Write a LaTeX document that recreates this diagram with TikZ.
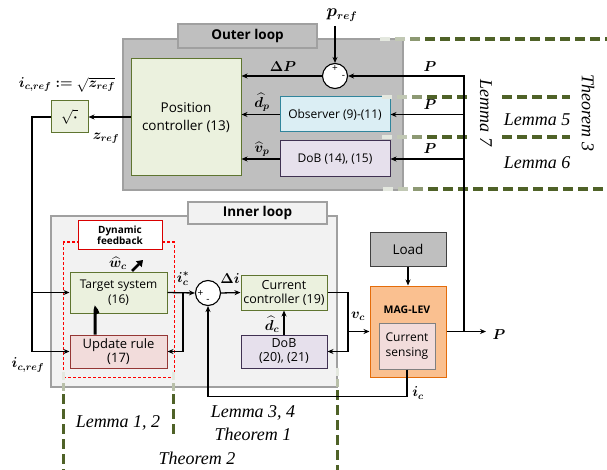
\documentclass[tikz,border=0pt]{standalone}
\usepackage{fontspec}
\usepackage{amsmath,bm}
\usetikzlibrary{arrows.meta,calc}
\newfontfamily\sansf{Open Sans}
\newfontfamily\serf{Liberation Serif}
\definecolor{grOuter}{HTML}{BFBFBF}
\definecolor{grOuterB}{HTML}{A0A0A0}
\definecolor{lgreen}{HTML}{EBF1DE}
\definecolor{dgreen}{HTML}{5F7530}
\definecolor{lcyan}{HTML}{DBEEF4}
\definecolor{cyanb}{HTML}{31859C}
\definecolor{lpurp}{HTML}{E6E0EC}
\definecolor{purpb}{HTML}{403152}
\definecolor{lpink}{HTML}{F2DCDB}
\definecolor{pinkb}{HTML}{953735}
\definecolor{orangef}{HTML}{FAC090}
\definecolor{orangeb}{HTML}{E46C0A}
\definecolor{innerf}{HTML}{F2F2F2}
\definecolor{dashol}{HTML}{4F6228}
\begin{document}
\begin{tikzpicture}[x=1pt,y=-1pt,
  box/.style={draw, line width=1pt, inner sep=0pt, align=center, font={\sansf\fontsize{12}{14.5}\selectfont}},
  gbox/.style={box, fill=lgreen, draw=dgreen},
  arr/.style={line width=1.3pt, -{Stealth[length=6pt,width=5pt]}},
  ln/.style={line width=1.3pt},
  mlab/.style={font={\fontsize{14}{16}\selectfont}, inner sep=0pt},
  lem/.style={font={\serf\itshape\fontsize{18}{21}\selectfont}, inner sep=0pt},
  dsh/.style={line width=4pt, dash pattern=on 10pt off 5pt},
  dshc/.style={line width=4pt},
  sumj/.style={circle, draw, line width=1.1pt, fill=white, minimum size=25pt, inner sep=0pt},
  pm/.style={inner sep=0pt, font={\sansf\fontsize{10}{10}\selectfont}}
]
\useasboundingbox (0,0) rectangle (607,470);
% ---------- outer loop ----------
\node[draw=grOuterB, fill=grOuter, line width=1.2pt, minimum width=280pt, minimum height=151pt, inner sep=0pt] (outer) at (263,114.5) {};
\node[draw=grOuterB, fill=grOuter, line width=1.2pt, minimum width=139pt, minimum height=24pt, inner sep=0pt, font={\sansf\bfseries\fontsize{13.5}{16}\selectfont}] (outerlbl) at (247.5,36) {Outer loop};
\node[gbox, minimum width=110pt, minimum height=117pt, font={\sansf\fontsize{13.5}{18}\selectfont}] (pos) at (186,117.5) {Position\\controller (13)};
\node[gbox, minimum width=37pt, minimum height=32pt, font={\fontsize{15}{16}\selectfont}] (sqrtb) at (69.5,117) {$\sqrt{\bm\cdot}$};
\node[box, fill=lcyan, draw=cyanb, minimum width=110pt, minimum height=35pt] (obs) at (335,114.5) {Observer (9)-(11)};
\node[box, fill=lpurp, draw=purpb, minimum width=110pt, minimum height=36pt] (dobo) at (335,159) {DoB (14), (15)};
\node[sumj] (sum1) at (335,76) {};
\node[pm] (sum1p) at (335,69) {+};
\node[pm] (sum1m) at (343.5,77) {-};
% ---------- inner loop ----------
\node[draw=grOuterB, fill=innerf, line width=1.2pt, minimum width=286pt, minimum height=171pt, inner sep=0pt] (inner) at (194,301.5) {};
\node[draw=grOuterB, fill=innerf, line width=1.2pt, minimum width=139pt, minimum height=22pt, inner sep=0pt, font={\sansf\bfseries\fontsize{13.5}{16}\selectfont}] (innerlbl) at (257.5,213) {Inner loop};
\draw[red, line width=1pt, dash pattern=on 3pt off 2pt] (63,242) rectangle (174,377);
\node[box, fill=white, draw=red!85!black, minimum width=84pt, minimum height=28pt, font={\sansf\bfseries\fontsize{10}{11.5}\selectfont}] (dynfb) at (120,235) {Dynamic\\feedback};
\node[gbox, minimum width=97pt, minimum height=41pt] (target) at (118.5,292.5) {Target system\\(16)};
\node[box, fill=lpink, draw=pinkb, minimum width=97pt, minimum height=33pt, font={\sansf\fontsize{13}{14.5}\selectfont}] (update) at (118.5,351.5) {Update rule\\(17)};
\node[sumj] (sum2) at (208,293) {};
\node[pm] (sum2p) at (200.5,293.5) {+};
\node[pm] (sum2m) at (208,301) {-};
\node[gbox, minimum width=86pt, minimum height=35pt, font={\sansf\fontsize{12.5}{14}\selectfont}] (curr) at (284,292.5) {Current\\controller (19)};
\node[box, fill=lpurp, draw=purpb, minimum width=86pt, minimum height=33pt, font={\sansf\fontsize{12.5}{14}\selectfont}] (dobi) at (284,351.5) {DoB\\(20), (21)};
% ---------- plant ----------
\node[box, fill=grOuter, draw=black!75, minimum width=76pt, minimum height=33pt, font={\sansf\fontsize{13.5}{16}\selectfont}] (load) at (408,249.5) {Load};
\node[box, fill=orangef, draw=orangeb, minimum width=76pt, minimum height=91pt] (maglev) at (408,331.5) {};
\node[inner sep=0pt, font={\sansf\bfseries\fontsize{10.5}{12}\selectfont}] (maglbl) at (407,310) {MAG-LEV};
\node[box, fill=lpink, draw=black!50, minimum width=56pt, minimum height=46pt, font={\sansf\fontsize{12}{14.5}\selectfont}] (cs) at (407,346) {Current\\sensing};
% ---------- dashed guide lines ----------
\foreach \y/\a/\b in {39/380/607, 189/383/607, 97/382/467, 137/382/467}{
  \draw[dshc, dashol!15] (\a,\y) -- +(10,0);
  \draw[dshc, dashol!35] (\a+15,\y) -- +(10,0);
  \draw[dshc, dashol!65] (\a+30,\y) -- +(10,0);
  \draw[dsh, dashol] (\a+45,\y) -- (\b,\y);
}
\draw[dsh, dashol] (502,97) -- (570,97);
\draw[dsh, dashol] (502,137) -- (570,137);
\foreach \x/\a/\b in {63/372/470, 173/372/437, 337/368/470}{
  \draw[line width=3pt, dashol!15] (\x,\a) -- +(0,8);
  \draw[line width=3pt, dashol!40] (\x,\a+11) -- +(0,8);
  \draw[line width=3pt, dash pattern=on 10pt off 5pt, dashol] (\x,\a+22) -- (\x,\b);
}
% ---------- coordinates ----------
\coordinate (pref) at (335,26);
\coordinate (Ptop) at (464,76);
\coordinate (Pout) at (464,331.5);
\coordinate (Pend) at (486,331.5);
\coordinate (L1) at (32,292.5);
\coordinate (L2) at (32,351.5);
\coordinate (B1) at (183,292.5);
\coordinate (V1) at (348,292.5);
\coordinate (V2) at (348,331.5);
% ---------- connectors ----------
\draw[arr] (pref) -- (sum1.north);
\draw[arr] (Pout) |- (sum1.east);
\draw[arr] (sum1.west) -- (sum1.west -| pos.east);
\draw[arr] (obs.east -| Ptop) -- (obs.east);
\draw[arr] (dobo.east -| Ptop) -- (dobo.east);
\draw[arr] (obs.west) -- (obs.west -| pos.east);
\draw[arr] (dobo.west) -- (dobo.west -| pos.east);
\draw[arr] (pos.west |- sqrtb.east) -- (sqrtb.east);
\draw[ln] (sqrtb.west) -| (L2);
\draw[arr] (L1) -- (target.west);
\draw[arr] (L2) -- (update.west);
\draw[arr] (target.east) -- (sum2.west);
\draw[arr] (B1) |- (update.east);
\draw[arr] (sum2.east) -- (curr.west);
\draw[arr] (dobi.north) -- (curr.south);
\draw[ln] (curr.east) -- (V1) -- (V2);
\draw[arr] (V2) -- (maglev.west);
\draw[arr] (V2) |- (dobi.east);
\draw[arr] (load.south) -- (maglev.north);
\draw[arr] (maglev.east) -- (Pend);
\draw[arr] (cs.south) -- ++(0,27) -| (sum2.south);
\draw[line width=3pt, rounded corners=4pt] ([xshift=-23.5pt]update.north) -- ([xshift=-23.5pt,yshift=7pt]target.south) -- ([xshift=-20.5pt]target.south);
\coordinate (wa) at (132,271);
\coordinate (wb) at (143,260);
\draw[line width=2.6pt, -{Triangle[length=6pt,width=8pt]}] (wa) -- (wb);
% ---------- labels ----------
\node[mlab] (lbeq) at (67,85) {$\bm{i_{c,ref}}\mathrel{\bm{:=}}\sqrt{\bm{z_{ref}}}$};
\node[mlab] (lbz) at (106,138) {$\bm{z_{ref}}$};
\node[mlab] (lbdp) at (283,67) {$\bm{\Delta P}$};
\node[mlab] (lbhd) at (262,102) {$\widehat{\bm d}_{\bm p}$};
\node[mlab] (lbhv) at (262,149) {$\widehat{\bm v}_{\bm p}$};
\node[mlab] (lbP1) at (430,67) {$\bm P$};
\node[mlab] (lbP2) at (430,105) {$\bm P$};
\node[mlab] (lbP3) at (430,149) {$\bm P$};
\node[mlab] (lbP4) at (499,335) {$\bm P$};
\node[mlab, font={\fontsize{16}{18}\selectfont}] (lbpref) at (342,15) {$\bm{p_{ref}}$};
\node[mlab] (lbw) at (118,263) {$\widehat{\bm w}_{\bm c}$};
\node[mlab] (lbis) at (183,279) {$\bm{i_c^{*}}$};
\node[mlab] (lbdi) at (230,279) {$\bm{\Delta i}$};
\node[mlab] (lbdc) at (272,324) {$\widehat{\bm d}_{\bm c}$};
\node[mlab] (lbvc) at (358,316) {$\bm{v_c}$};
\node[mlab] (lbic) at (418,393) {$\bm{i_c}$};
\node[mlab] (lbicref) at (28,365) {$\bm{i_{c,ref}}$};
% ---------- lemma texts ----------
\node[lem, rotate=-90] (lem7) at (486,113) {Lemma 7};
\node[lem, rotate=-90] (thm3) at (588,113) {Theorem 3};
\node[lem] (lem5) at (537,120) {Lemma 5};
\node[lem] (lem6) at (537,163) {Lemma 6};
\node[lem] (lem12) at (118,423) {Lemma 1, 2};
\node[lem] (lem34) at (253,413) {Lemma 3, 4};
\node[lem] (thm1) at (253,434) {Theorem 1};
\node[lem] (thm2) at (197,458) {Theorem 2};
\end{tikzpicture}
\end{document}
